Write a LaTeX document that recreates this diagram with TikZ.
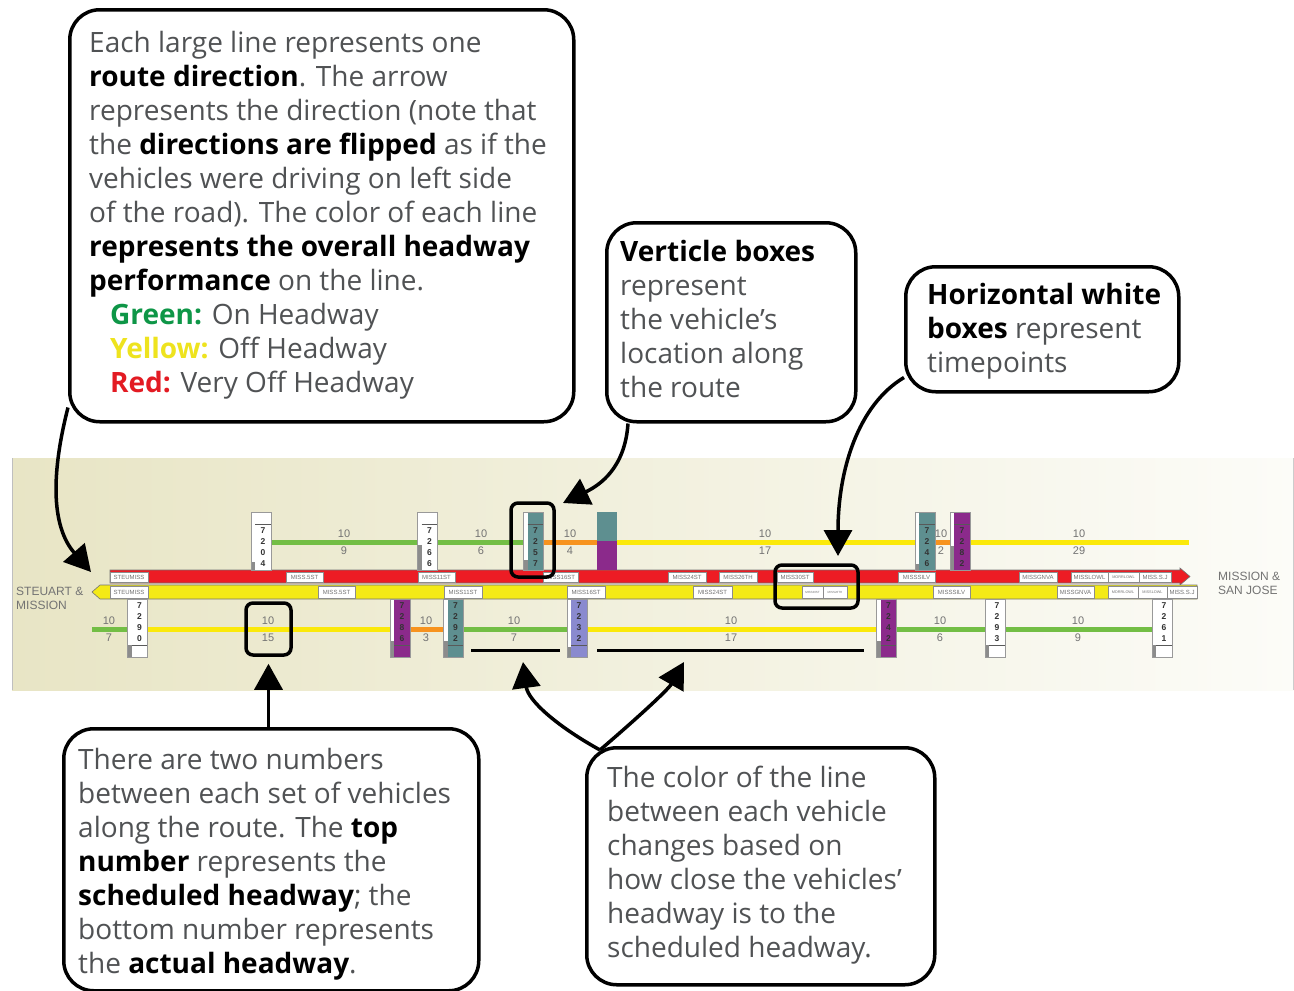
\documentclass[tikz,border=0pt]{standalone}
\usepackage{fontspec}
\setmainfont{Open Sans}
\newfontfamily\mapfont{Liberation Sans}
\usetikzlibrary{arrows.meta}

\definecolor{txtGray}{HTML}{505254}
\definecolor{okGreen}{HTML}{0E9647}
\definecolor{offYellow}{HTML}{EEE31E}
\definecolor{badRed}{HTML}{E31B23}
\definecolor{barRed}{HTML}{ED1C24}
\definecolor{barYellow}{HTML}{F4EA16}
\definecolor{lineGreen}{HTML}{73BE45}
\definecolor{lineYellow}{HTML}{FBE90A}
\definecolor{lineOrange}{HTML}{F7931E}
\definecolor{busTeal}{HTML}{5E8F90}
\definecolor{busPurple}{HTML}{8B2A8B}
\definecolor{busLilac}{HTML}{8A8ACF}
\definecolor{bandLeft}{HTML}{E8E5C5}
\definecolor{bandRight}{HTML}{FCFCF8}

\newcommand{\bk}[1]{\textcolor{black}{\bfseries #1}}

\tikzset{
  callout/.style={draw, line width=3.5pt, rounded corners=30pt, fill=white, inner sep=0pt},
  note/.style={anchor=north west, inner sep=0pt, align=left, text=txtGray, font=\fontsize{28}{34}\selectfont},
  pointer/.style={line width=3.5pt, -{Triangle[length=26pt, width=28pt]}},
  ring/.style={draw, line width=3.5pt, rounded corners=7pt, inner sep=0pt},
  headway/.style={line width=5pt},
  hw/.style={font=\mapfont\fontsize{11}{16.5}\selectfont, text=black!55, align=center, inner sep=0pt},
  station/.style={anchor=north west, font=\mapfont\fontsize{12}{14}\selectfont, text=black!55, align=left, inner sep=0pt},
  stopbox/.style={draw=black!45, fill=white, line width=0.5pt, inner sep=0pt, font=\mapfont\fontsize{6}{6}\selectfont, text=black!55},
  tinybox/.style={stopbox, font=\mapfont\fontsize{3.8}{4}\selectfont},
  bus/.style={draw=black!40, line width=0.5pt, minimum width=20pt, minimum height=58pt, inner sep=0pt},
  digits/.style={font=\mapfont\bfseries\fontsize{8.5}{11}\selectfont, text=black!80, align=center, inner sep=0pt},
  vehup/.style n args={2}{bus, fill=#1, path picture={
    \fill[white] (path picture bounding box.north west) rectangle ([xshift=4pt]path picture bounding box.south west);
    \fill[black!45] ([yshift=#2]path picture bounding box.south west) rectangle ([xshift=4pt]path picture bounding box.south west);
    \draw[black!65, line width=0.8pt] ([xshift=4pt, yshift=-12pt]path picture bounding box.north west) -- ([yshift=-12pt]path picture bounding box.north east);
  }},
  vehdn/.style n args={2}{bus, fill=#1, path picture={
    \fill[white] (path picture bounding box.north west) rectangle ([xshift=4pt]path picture bounding box.south west);
    \fill[black!45] ([yshift=#2]path picture bounding box.south west) rectangle ([xshift=4pt]path picture bounding box.south west);
    \draw[black!65, line width=0.8pt] ([xshift=4pt, yshift=12pt]path picture bounding box.south west) -- ([yshift=12pt]path picture bounding box.south east);
  }}
}

\begin{document}
\begin{tikzpicture}[x=1pt, y=-1pt]
    \useasboundingbox (0,0) rectangle (1294,991);

    % Band behind the route
    \shade[left color=bandLeft, right color=bandRight] (12,458) rectangle (1294,690);
    \draw[black!25, line width=1pt] (12,458) -- (12,690);
    \draw[black!20, line width=0.8pt] (1293,458) -- (1293,690);

    % Upper headway line
    \draw[headway, lineGreen] (271,542) -- (417,542);
    \draw[headway, lineGreen] (438,542) -- (523,542);
    \draw[headway, lineOrange] (544,542) -- (597,542);
    \draw[headway, lineYellow] (617,542) -- (915,542);
    \draw[headway, lineOrange] (935,542) -- (950,542);
    \draw[headway, lineYellow] (969,542) -- (1189,542);
    \node[hw] (hu1) at (344,542) {10\\9};
    \node[hw] (hu2) at (481,542) {10\\6};
    \node[hw] (hu3) at (570,542) {10\\4};
    \node[hw] (hu4) at (765,542) {10\\17};
    \node[hw] (hu5) at (941,542) {10\\2};
    \node[hw] (hu6) at (1079,542) {10\\29};

    % Lower headway line
    \draw[headway, lineGreen] (92,629) -- (127,629);
    \draw[headway, lineYellow] (148,629) -- (390,629);
    \draw[headway, lineOrange] (410,629) -- (444,629);
    \draw[headway, lineGreen] (463,629) -- (567,629);
    \draw[headway, lineYellow] (587,629) -- (877,629);
    \draw[headway, lineGreen] (896,629) -- (985,629);
    \draw[headway, lineGreen] (1005,629) -- (1152,629);
    \node[hw] (hl1) at (109,629) {10\\7};
    \node[hw] (hl2) at (268,629) {10\\15};
    \node[hw] (hl3) at (426,629) {10\\3};
    \node[hw] (hl4) at (514,629) {10\\7};
    \node[hw] (hl5) at (731,629) {10\\17};
    \node[hw] (hl6) at (940,629) {10\\6};
    \node[hw] (hl7) at (1078,629) {10\\9};

    % Route direction bars
    \draw[fill=barRed, draw=black!55, line width=0.6pt] (110,570) -- (1180,570) -- (1180,568) -- (1190,576.5) -- (1180,585) -- (1180,583) -- (110,583) -- cycle;
    \draw[fill=barYellow, draw=black!55, line width=0.6pt] (100,585) -- (1197,585) -- (1197,599) -- (100,599) -- (92,592) -- cycle;
    \node[station] (westEnd) at (16,587) {STEUART \&\\MISSION};
    \node[station] (eastEnd) at (1218,572) {MISSION \&\\SAN JOSE};

    % Timepoints, upper bar
    \node[stopbox, minimum width=38pt, minimum height=10pt] (tu1) at (129,577) {STEUMISS};
    \node[stopbox, minimum width=37pt, minimum height=10pt] (tu2) at (304.5,577) {MISS.5ST};
    \node[stopbox, minimum width=37pt, minimum height=10pt] (tu3) at (436.5,577) {MISS11ST};
    \node[stopbox, minimum width=35pt, minimum height=10pt] (tu4) at (560.5,577) {MISS16ST};
    \node[stopbox, minimum width=38pt, minimum height=10pt] (tu5) at (687,577) {MISS24ST};
    \node[stopbox, minimum width=38pt, minimum height=10pt] (tu6) at (738,577) {MISS26TH};
    \node[stopbox, minimum width=36pt, minimum height=10pt] (tu7) at (795,577) {MISS30ST};
    \node[stopbox, minimum width=37pt, minimum height=10pt] (tu8) at (916.5,577) {MISSSILV};
    \node[stopbox, minimum width=38pt, minimum height=10pt] (tu9) at (1038,577) {MISSGNVA};
    \node[stopbox, minimum width=37pt, minimum height=10pt] (tu10) at (1089.5,577) {MISSLOWL};
    \node[tinybox, minimum width=31pt, minimum height=10pt] (tu11) at (1123.5,577) {MORRLOWL};
    \node[stopbox, minimum width=32pt, minimum height=10pt] (tu12) at (1155,577) {MISS.S.J};

    % Timepoints, lower bar
    \node[stopbox, minimum width=38pt, minimum height=12pt] (tl1) at (129,592) {STEUMISS};
    \node[stopbox, minimum width=37pt, minimum height=12pt] (tl2) at (336.5,592) {MISS.5ST};
    \node[stopbox, minimum width=38pt, minimum height=12pt] (tl3) at (463,592) {MISS11ST};
    \node[stopbox, minimum width=38pt, minimum height=12pt] (tl4) at (586,592) {MISS16ST};
    \node[stopbox, minimum width=39pt, minimum height=12pt] (tl5) at (712.5,592) {MISS24ST};
    \node[tinybox, minimum width=21pt, minimum height=12pt, font=\mapfont\fontsize{3}{3}\selectfont] (tl6) at (812.5,592) {MISS30ST};
    \node[tinybox, minimum width=24pt, minimum height=12pt, font=\mapfont\fontsize{3}{3}\selectfont] (tl7) at (835,592) {MISS26TH};
    \node[stopbox, minimum width=37pt, minimum height=12pt] (tl8) at (951.5,592) {MISSSILV};
    \node[stopbox, minimum width=37pt, minimum height=12pt] (tl9) at (1075.5,592) {MISSGNVA};
    \node[tinybox, minimum width=30pt, minimum height=12pt] (tl10) at (1123,592) {MORRLOWL};
    \node[tinybox, minimum width=29pt, minimum height=12pt] (tl11) at (1152.5,592) {MISSLOWL};
    \node[stopbox, minimum width=30pt, minimum height=12pt] (tl12) at (1182,592) {MISS.S.J};

    % Vehicles above the bars
    \node[vehup={white}{8pt}, label={[digits, xshift=2pt, yshift=-6pt]center:7\\2\\0\\4}] (v7204) at (261,541) {};
    \node[vehup={white}{25pt}, label={[digits, xshift=2pt, yshift=-6pt]center:7\\2\\6\\6}] (v7266) at (427.5,541) {};
    \node[vehup={busTeal}{10pt}, label={[digits, xshift=2pt, yshift=-6pt]center:7\\2\\5\\7}] (v7257) at (533.5,541) {};
    \fill[busTeal] (597,512) rectangle (617,541);
    \fill[busPurple] (597,541) rectangle (617,570);
    \node[vehup={busTeal}{6pt}, label={[digits, xshift=2pt, yshift=-6pt]center:7\\2\\4\\6}] (v7246) at (925,541) {};
    \node[vehup={busPurple}{24pt}, label={[digits, xshift=2pt, yshift=-6pt]center:7\\2\\8\\2}] (v7282) at (960,541) {};

    % Vehicles below the bars
    \node[vehdn={white}{12pt}, label={[digits, xshift=2pt, yshift=5.5pt]center:7\\2\\9\\0}] (v7290) at (137.5,628) {};
    \node[vehdn={busPurple}{16pt}, label={[digits, xshift=2pt, yshift=5.5pt]center:7\\2\\8\\6}] (v7286) at (400,628) {};
    \node[vehdn={busTeal}{16pt}, label={[digits, xshift=2pt, yshift=5.5pt]center:7\\2\\9\\2}] (v7292) at (453.5,628) {};
    \node[vehdn={busLilac}{10pt}, label={[digits, xshift=2pt, yshift=5.5pt]center:7\\2\\3\\2}] (v7232) at (577,628) {};
    \node[vehdn={busPurple}{16pt}, label={[digits, xshift=2pt, yshift=5.5pt]center:7\\2\\4\\2}] (v7242) at (886.5,628) {};
    \node[vehdn={white}{12pt}, label={[digits, xshift=2pt, yshift=5.5pt]center:7\\2\\9\\3}] (v7293) at (995,628) {};
    \node[vehdn={white}{12pt}, label={[digits, xshift=2pt, yshift=5.5pt]center:7\\2\\6\\1}] (v7261) at (1162,628) {};

    % Highlights
    \node[ring, minimum width=43pt, minimum height=74pt] (ringVeh) at (532.5,540) {};
    \node[ring, minimum width=83pt, minimum height=43pt] (ringStop) at (816.5,586.5) {};
    \node[ring, minimum width=45pt, minimum height=52pt] (ringNum) at (268.5,629) {};
    \draw[line width=3pt] (471,650) -- (560,650);
    \draw[line width=3pt] (597,650) -- (864,650);

    % Callouts
    \node[callout, minimum width=504pt, minimum height=412pt, anchor=north west] (boxRoute) at (68,8) {};
    \node[note] (txtRoute) at (89,31) {Each large line represents one\\
      \bk{route direction}. The arrow\\
      represents the direction (note that\\
      the \bk{directions are flipped} as if the\\
      vehicles were driving on left side\\
      of the road). The color of each line\\
      \bk{represents the overall headway}\\
      \bk{performance} on the line.\\
      \hspace*{21pt}\textcolor{okGreen}{\bfseries Green:} On Headway\\
      \hspace*{21pt}\textcolor{offYellow}{\bfseries Yellow:} Off Headway\\
      \hspace*{21pt}\textcolor{badRed}{\bfseries Red:} Very Off Headway};

    \node[callout, minimum width=249pt, minimum height=199pt, anchor=north west] (boxVeh) at (605,221) {};
    \node[note] (txtVeh) at (620,240) {\bk{Verticle boxes}\\represent\\the vehicle’s\\location along\\the route};

    \node[callout, minimum width=273pt, minimum height=125pt, anchor=north west] (boxTime) at (904,265) {};
    \node[note] (txtTime) at (927,283) {\bk{Horizontal white}\\\bk{boxes} represent\\timepoints};

    \node[callout, minimum width=415pt, minimum height=262pt, anchor=north west] (boxHead) at (62,727) {};
    \node[note] (txtHead) at (78,748) {There are two numbers\\
      between each set of vehicles\\
      along the route. The \bk{top}\\
      \bk{number} represents the\\
      \bk{scheduled headway}; the\\
      bottom number represents\\
      the \bk{actual headway}.};

    \node[callout, minimum width=348pt, minimum height=237pt, anchor=north west] (boxColor) at (585,746) {};
    \node[note] (txtColor) at (607,766) {The color of the line\\
      between each vehicle\\
      changes based on\\
      how close the vehicles’\\
      headway is to the\\
      scheduled headway.};

    % Arrows
    \coordinate (westTip) at (91,572);
    \coordinate (vehTip) at (563,503);
    \coordinate (stopTip) at (838,556);
    \coordinate (fork) at ([xshift=15pt, yshift=-4pt]boxColor.north west);
    \coordinate (gapA) at (523,662);
    \coordinate (gapB) at (684,662);
    \draw[pointer] ([yshift=16pt]boxRoute.south west) .. controls (52,470) and (50,525) .. (westTip);
    \draw[pointer] ([xshift=23pt]boxVeh.south west) .. controls (625,468) and (600,485) .. (vehTip);
    \draw[pointer] ([yshift=16pt]boxTime.south west) .. controls (858,405) and (838,470) .. (stopTip);
    \draw[pointer] (ringNum.south |- boxHead.north) -- ([yshift=-7pt]ringNum.south);
    \draw[pointer] (fork) .. controls (555,725) and (528,700) .. (gapA);
    \draw[pointer] (fork) .. controls (635,720) and (668,690) .. (gapB);
\end{tikzpicture}
\end{document}
